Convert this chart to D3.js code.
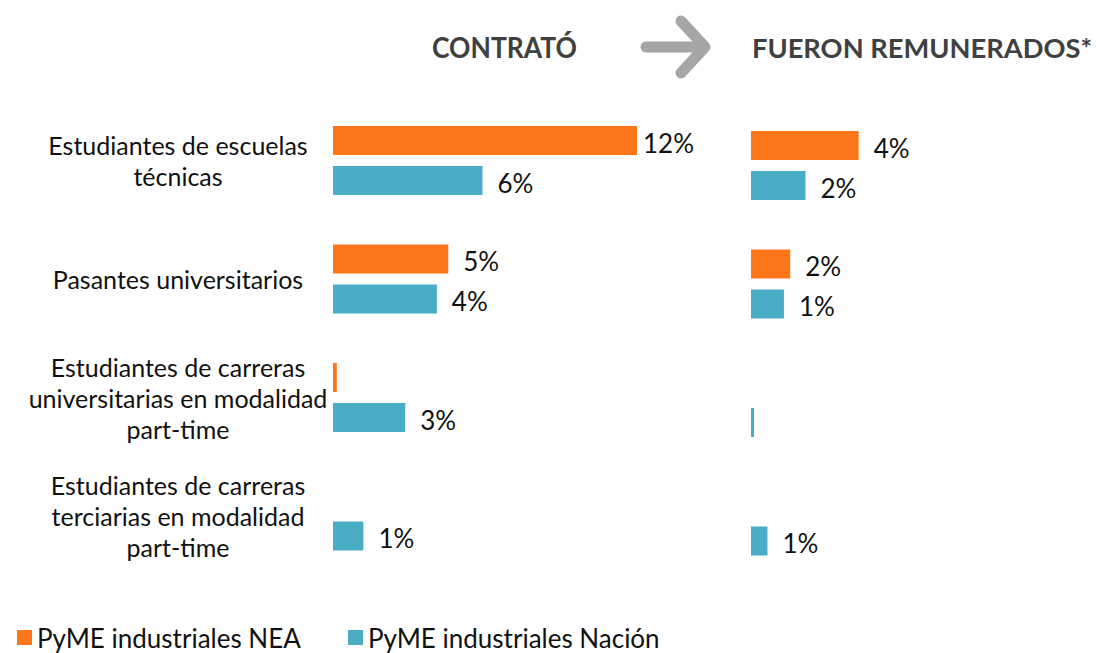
<!DOCTYPE html>
<html>
<head>
<meta charset="utf-8">
<script src="https://cdn.jsdelivr.net/npm/d3@7"></script>
<style>
  body { margin: 0; background: #fff; }
  text { font-family: Lato, "Open Sans", sans-serif; }
</style>
</head>
<body>
<div id="container"></div>
<script>
// data we work with
let categories = [
  ["Estudiantes de escuelas", "técnicas"],
  ["Pasantes universitarios"],
  ["Estudiantes de carreras", "universitarias en modalidad", "part-time"],
  ["Estudiantes de carreras", "terciarias en modalidad", "part-time"]
];
let seriesNames = ["PyME industriales NEA", "PyME industriales Nación"];
let contratoNEA = [12.0, 4.55, 0.15, 0];
let contratoNacion = [5.9, 4.1, 2.85, 1.2];
let remuneradosNEA = [4.25, 1.55, 0, 0];
let remuneradosNacion = [2.15, 1.3, 0.12, 0.65];
let panelTitles = ["CONTRATÓ", "FUERON REMUNERADOS*"];

let colors = ["#fd7619", "#4bacc6"];

let w = 1099;
let h = 653;

let viz = d3.select("#container")
  .append("svg")
    .attr("width", w)
    .attr("height", h)
;

let catIndex = d3.range(categories.length);

// row scale & inner scale for the two series
let yRow = d3.scaleBand().domain(catIndex).range([126, 126 + 4 * 118.5]);
let ySer = d3.scaleBand().domain([0, 1]).range([0, 69]).paddingInner(0.275);

// same px per % on both panels
let xLeft = d3.scaleLinear().domain([0, 12]).range([333, 637]);
let xRight = d3.scaleLinear().domain([0, 12]).range([751, 1055]);

function drawPanel(xScale, nea, nacion, yShift, cls) {
  let g = viz.append("g").attr("class", cls).attr("transform", "translate(0," + yShift + ")");
  [nea, nacion].forEach(function(values, s) {
    let rows = values.map(function(v, i) { return { i: i, v: v }; });
    g.selectAll(".bar" + s)
      .data(rows.filter(function(d) { return d.v > 0; }))
      .enter()
      .append("rect")
        .attr("class", "bar" + s)
        .attr("x", xScale(0))
        .attr("y", function(d) { return yRow(d.i) + ySer(s); })
        .attr("width", function(d) { return xScale(d.v) - xScale(0); })
        .attr("height", ySer.bandwidth())
        .attr("fill", colors[s])
    ;
    g.selectAll(".lab" + s)
      .data(rows.filter(function(d) { return d.v >= 0.5; }))
      .enter()
      .append("text")
        .attr("class", "lab" + s)
        .attr("x", function(d) { return xScale(d.v) + (d.v >= 10 ? 6 : 15); })
        .attr("y", function(d) { return yRow(d.i) + ySer(s) + ySer.bandwidth() / 2 + 2; })
        .attr("dominant-baseline", "central")
        .attr("font-size", 26)
        .attr("fill", "#111")
        .text(function(d) { return Math.round(d.v) + "%"; })
    ;
  });
}

drawPanel(xLeft, contratoNEA, contratoNacion, 0, "left");
drawPanel(xRight, remuneradosNEA, remuneradosNacion, 5, "right");

// category labels, centered on their row
let catGroup = viz.append("g").attr("class", "categories");
catIndex.forEach(function(i) {
  let lines = categories[i];
  let cy = yRow(i) + 34.5;
  catGroup.append("text")
    .attr("text-anchor", "middle")
    .attr("font-size", 25)
    .attr("fill", "#111")
    .selectAll("tspan")
    .data(lines)
    .enter()
    .append("tspan")
      .attr("x", 178)
      .attr("y", function(d, k) { return cy + (k - (lines.length - 1) / 2) * 31; })
      .attr("dominant-baseline", "central")
      .text(function(d) { return d; })
  ;
});

// panel titles (squeezed to the reference width)
viz.append("text")
  .attr("x", 432).attr("y", 58)
  .attr("font-size", 28).attr("font-weight", "bold").attr("fill", "#404040")
  .attr("textLength", 145).attr("lengthAdjust", "spacingAndGlyphs")
  .text(panelTitles[0]);
viz.append("text")
  .attr("x", 752).attr("y", 58)
  .attr("font-size", 26).attr("font-weight", "bold").attr("fill", "#404040")
  .attr("textLength", 340).attr("lengthAdjust", "spacingAndGlyphs")
  .text(panelTitles[1]);

// gray arrow between the titles
let line = d3.line();
viz.append("path")
  .attr("d", line([[646, 47], [704, 47]]))
  .attr("stroke", "#a6a6a6").attr("stroke-width", 11).attr("stroke-linecap", "round")
  .attr("fill", "none");
viz.append("path")
  .attr("d", line([[681, 21], [705, 47], [681, 73]]))
  .attr("stroke", "#a6a6a6").attr("stroke-width", 11)
  .attr("stroke-linecap", "round").attr("stroke-linejoin", "round")
  .attr("fill", "none");

// legend
let legend = viz.append("g").attr("class", "legend");
let legendX = [17, 348];
seriesNames.forEach(function(name, s) {
  legend.append("rect")
    .attr("x", legendX[s]).attr("y", 630)
    .attr("width", 15).attr("height", 15)
    .attr("fill", colors[s]);
  legend.append("text")
    .attr("x", legendX[s] + 20).attr("y", 638)
    .attr("dominant-baseline", "central")
    .attr("font-size", 26).attr("fill", "#111")
    .text(name);
});
</script>
</body>
</html>
